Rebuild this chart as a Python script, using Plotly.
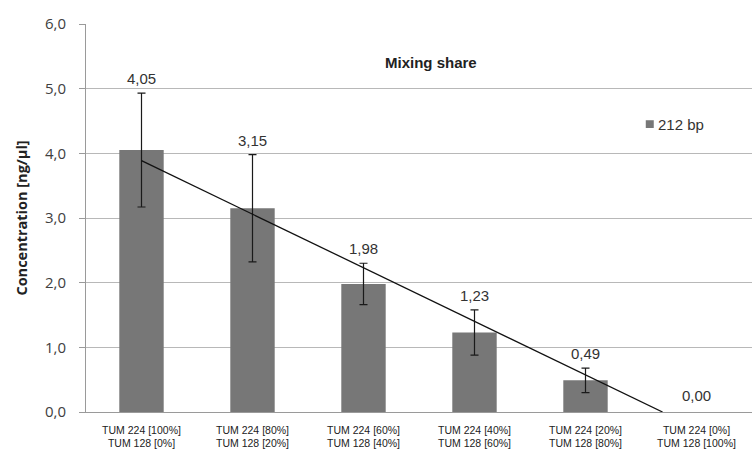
import numpy as np
import plotly.graph_objects as go

categories = [
    "TUM 224 [100%]<br>TUM 128 [0%]",
    "TUM 224 [80%]<br>TUM 128 [20%]",
    "TUM 224 [60%]<br>TUM 128 [40%]",
    "TUM 224 [40%]<br>TUM 128 [60%]",
    "TUM 224 [20%]<br>TUM 128 [80%]",
    "TUM 224 [0%]<br>TUM 128 [100%]",
]
series_name = "212 bp"
concentration = [4.05, 3.15, 1.98, 1.23, 0.49, 0.00]
error = [0.88, 0.83, 0.32, 0.35, 0.19, None]
y_ticks = [0, 1, 2, 3, 4, 5, 6]
y_tick_labels = ["0,0", "1,0", "2,0", "3,0", "4,0", "5,0", "6,0"]

x_idx = np.arange(len(categories))
bar_color = "#777777"
fig = go.Figure()

fig.add_trace(go.Bar(
    x=x_idx, y=concentration, name=series_name, showlegend=False,
    marker=dict(color=bar_color, line=dict(width=0)),
))

# error bars only where a deviation was measured
with_err = [i for i, e in enumerate(error) if e is not None]
fig.add_trace(go.Scatter(
    x=[x_idx[i] for i in with_err], y=[concentration[i] for i in with_err],
    mode="markers", marker=dict(size=1, opacity=0), showlegend=False, hoverinfo="skip",
    error_y=dict(type="data", array=[error[i] for i in with_err],
                 visible=True, color="#1a1a1a", thickness=1.2, width=4),
))

# linear trend line, clipped where it reaches zero
slope, intercept = np.polyfit(x_idx, concentration, 1)
x_end = -intercept / slope
fig.add_trace(go.Scatter(
    x=[0, x_end], y=[intercept, 0], mode="lines",
    line=dict(color="#111111", width=1.3), showlegend=False, hoverinfo="skip",
))

# value labels above the error bars
for i, (v, e) in enumerate(zip(concentration, error)):
    fig.add_annotation(
        x=i, y=v + (e or 0), text=f"{v:.2f}".replace(".", ","), showarrow=False,
        yanchor="bottom", yshift=4 if e else 6,
        font=dict(family="Liberation Sans, Arial", size=15, color="#333333"),
    )

fig.add_annotation(
    x=0.518, y=0.902, xref="paper", yref="paper", text="<b>Mixing share</b>",
    showarrow=False, xanchor="center", yanchor="middle",
    font=dict(family="Liberation Sans, Arial", size=15, color="#222222"),
)

# compact legend: swatch plus series name
fig.add_shape(type="rect", xref="paper", yref="paper",
              x0=0.8405, x1=0.8525, y0=0.732, y1=0.752,
              fillcolor=bar_color, line=dict(width=0))
fig.add_annotation(
    x=0.856, y=0.742, xref="paper", yref="paper", text=series_name,
    showarrow=False, xanchor="left", yanchor="middle",
    font=dict(family="Liberation Sans, Arial", size=15, color="#333333"),
)

fig.update_layout(
    width=755, height=455,
    margin=dict(l=86, r=3, t=24, b=43),
    plot_bgcolor="white", paper_bgcolor="white",
    bargap=0.6,
    showlegend=False,
    xaxis=dict(
        range=[-0.5, 5.5], tickmode="array", tickvals=list(x_idx), ticktext=categories,
        showgrid=False, showline=True, linecolor="#9a9a9a", linewidth=1,
        ticks="", ticklabelstandoff=8,
        tickfont=dict(family="Liberation Sans, Arial", size=10.5, color="#222222"),
        zeroline=False,
    ),
    yaxis=dict(
        range=[0, 6], tickmode="array", tickvals=y_ticks, ticktext=y_tick_labels,
        showgrid=True, gridcolor="#b8b8b8", gridwidth=1,
        showline=True, linecolor="#9a9a9a", linewidth=1,
        ticks="outside", ticklen=6, tickcolor="#9a9a9a", ticklabelstandoff=10,
        tickfont=dict(family="Open Sans, Liberation Sans", size=15, color="#404040"),
        title=dict(text="<b>Concentration [ng/µl]</b>", standoff=13,
                   font=dict(family="Open Sans, Liberation Sans", size=14.5, color="#222222")),
        zeroline=False,
    ),
)

# category separator ticks on the x axis
for b in np.arange(0.5, 5.5, 1.0):
    fig.add_shape(type="line", x0=b, x1=b, y0=0, y1=-0.09, xref="x", yref="y",
                  line=dict(color="#9a9a9a", width=1))

fig.write_html("out.html")
